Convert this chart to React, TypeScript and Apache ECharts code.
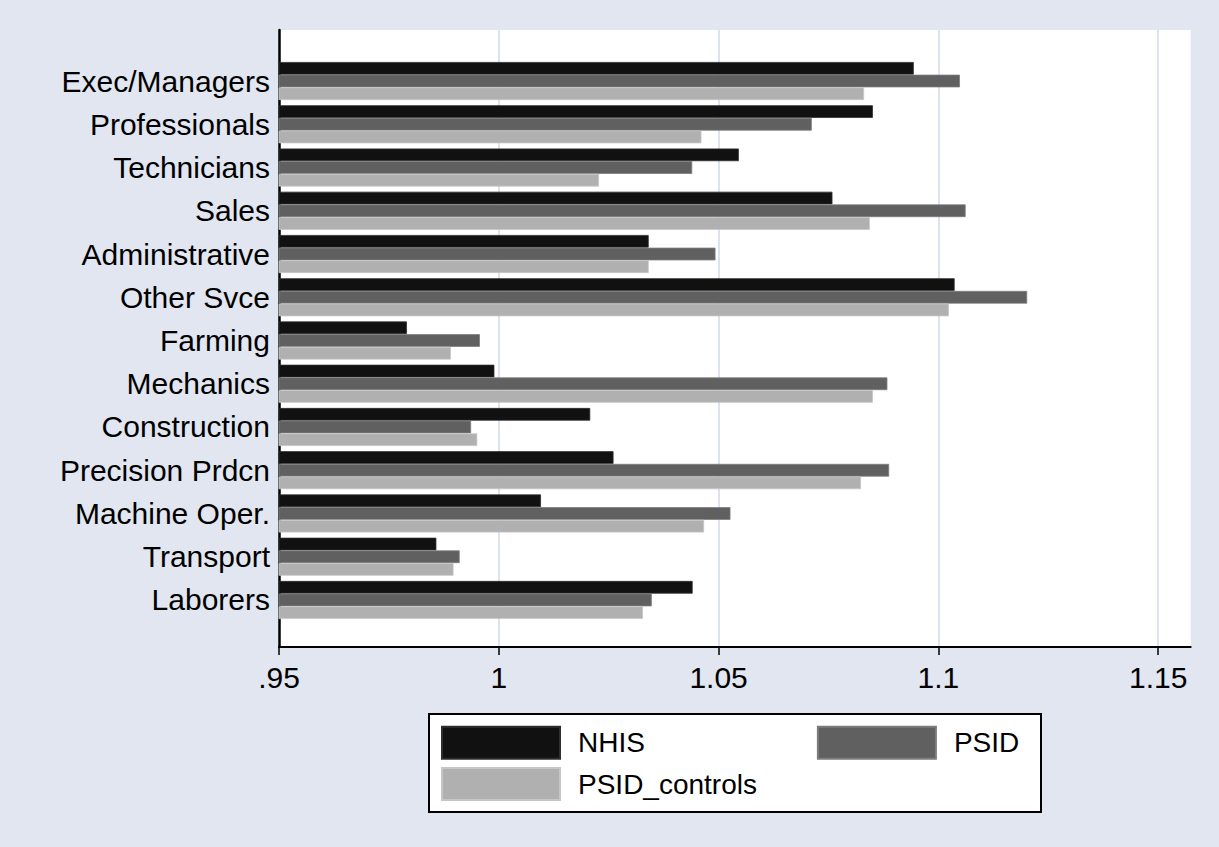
import React, { useEffect, useRef } from "react";
import * as echarts from "echarts";

const categories = [
  "Exec/Managers",
  "Professionals",
  "Technicians",
  "Sales",
  "Administrative",
  "Other Svce",
  "Farming",
  "Mechanics",
  "Construction",
  "Precision Prdcn",
  "Machine Oper.",
  "Transport",
  "Laborers",
];
const nhis = [1.0944, 1.0851, 1.0546, 1.0759, 1.0341, 1.1037, 0.9791, 0.999, 1.0208, 1.0261, 1.0096, 0.9858, 1.0441];
const psid = [1.1049, 1.0712, 1.044, 1.1062, 1.0493, 1.1202, 0.9957, 1.0884, 0.9937, 1.0888, 1.0527, 0.9911, 1.0348];
const psidControls = [1.0831, 1.0461, 1.0228, 1.0844, 1.0341, 1.1024, 0.9891, 1.0851, 0.9951, 1.0824, 1.0467, 0.9897, 1.0328];
const xTicks = [0.95, 1, 1.05, 1.1, 1.15];
const seriesNames = ["NHIS", "PSID", "PSID_controls"];

const FONT = "'Liberation Sans', Arial, sans-serif";
const X_MIN = 0.95;
const X_MAX = 1.1574;

export default function App() {
  const ref = useRef<HTMLDivElement>(null);
  useEffect(() => {
    document.body.style.margin = "0";
    const chart = echarts.init(ref.current!, null, { renderer: "svg" });
    const fmt = (v: number) => {
      const s = String(Math.round(v * 1000) / 1000);
      return s.replace(/^0\./, ".");
    };
    chart.setOption({
      animation: false,
      backgroundColor: "#e1e6f0",
      grid: [
        { left: 279, top: 30, width: 911.7, height: 617, show: true, backgroundColor: "#ffffff", borderWidth: 0 },
        { left: 279, top: 59.4, width: 911.7, height: 562.2 },
      ],
      xAxis: [
        {
          gridIndex: 0,
          type: "value",
          min: X_MIN,
          max: X_MAX,
          interval: 0.05,
          axisLine: { show: true, lineStyle: { color: "#000", width: 2 } },
          axisTick: { show: true, length: 8, customValues: xTicks, lineStyle: { color: "#000", width: 1.5 } },
          axisLabel: {
            customValues: xTicks,
            formatter: fmt,
            fontSize: 30,
            fontFamily: FONT,
            color: "#000",
            margin: 15,
          },
          splitLine: { show: true, lineStyle: { color: "#dde3ee", width: 2 } },
        },
        { gridIndex: 1, type: "value", min: X_MIN, max: X_MAX, show: false },
      ],
      yAxis: [
        {
          gridIndex: 0,
          type: "value",
          min: 0,
          max: 1,
          axisLine: { show: true, lineStyle: { color: "#000", width: 2.5 } },
          axisTick: { show: false },
          axisLabel: { show: false },
          splitLine: { show: false },
        },
        {
          gridIndex: 1,
          type: "category",
          inverse: true,
          data: categories,
          axisLine: { show: false },
          axisTick: { show: false },
          axisLabel: { fontSize: 30, fontFamily: FONT, color: "#000", margin: 9 },
        },
      ],
      legend: [
        {
          data: [seriesNames[0], seriesNames[1]],
          left: 441,
          top: 725.7,
          padding: 0,
          itemWidth: 118,
          itemHeight: 32,
          itemGap: 172,
          icon: "rect",
          selectedMode: false,
          textStyle: { fontSize: 28, fontFamily: FONT, color: "#000", padding: [0, 0, 0, 13], width: 100, overflow: "none" },
        },
        {
          data: [seriesNames[2]],
          left: 441,
          top: 767,
          padding: 0,
          itemWidth: 118,
          itemHeight: 32,
          icon: "rect",
          selectedMode: false,
          textStyle: { fontSize: 28, fontFamily: FONT, color: "#000", padding: [0, 0, 0, 13] },
        },
      ],
      graphic: [
        {
          type: "rect",
          z: -1,
          shape: { x: 429, y: 714, width: 612, height: 98 },
          style: { fill: "#ffffff", stroke: "#000000", lineWidth: 2 },
        },
      ],
      series: [
        {
          name: seriesNames[0],
          type: "bar",
          xAxisIndex: 1,
          yAxisIndex: 1,
          data: nhis,
          barGap: "0%",
          barCategoryGap: "12%",
          itemStyle: { color: "#111111", borderColor: "#2e2e2e", borderWidth: 0.8 },
        },
        {
          name: seriesNames[1],
          type: "bar",
          xAxisIndex: 1,
          yAxisIndex: 1,
          data: psid,
          barGap: "0%",
          barCategoryGap: "12%",
          itemStyle: { color: "#606060", borderColor: "#7c7c7c", borderWidth: 0.8 },
        },
        {
          name: seriesNames[2],
          type: "bar",
          xAxisIndex: 1,
          yAxisIndex: 1,
          data: psidControls,
          barGap: "0%",
          barCategoryGap: "12%",
          itemStyle: { color: "#b0b0b0", borderColor: "#c6c6c6", borderWidth: 0.8 },
        },
      ],
    });
    return () => chart.dispose();
  }, []);
  return <div ref={ref} style={{ width: 1219, height: 847 }} />;
}
